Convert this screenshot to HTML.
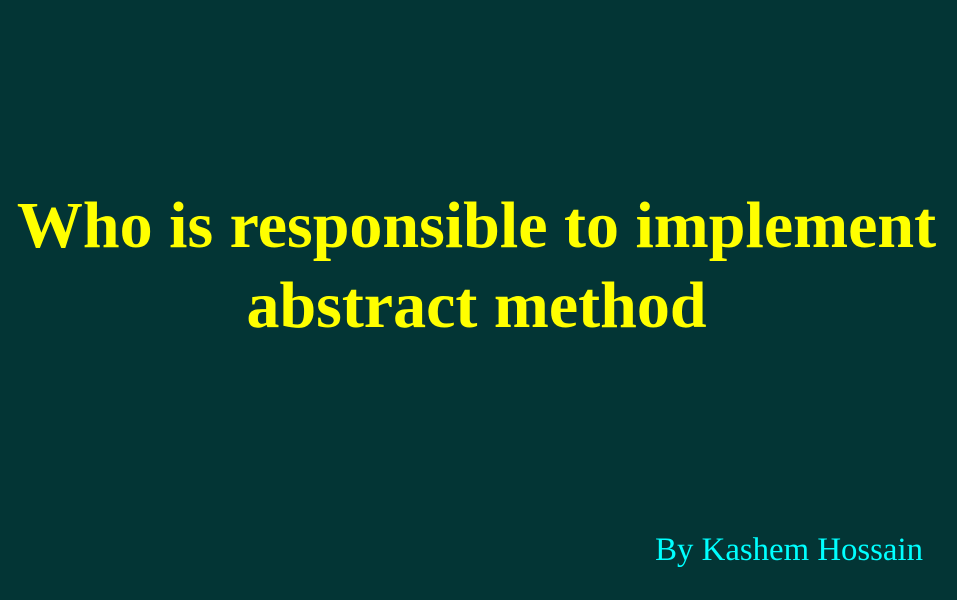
<!DOCTYPE html>
<html><head><meta charset="utf-8"><style>
html,body{margin:0;padding:0;width:957px;height:600px;background:#033535;overflow:hidden}
.t{position:absolute;left:-2px;width:957px;text-align:center;color:#ffff00;font-family:"Liberation Serif",serif;font-weight:bold;font-size:66px;line-height:80px;top:186px}
.b{position:absolute;right:34px;top:531px;color:#00ffff;font-family:"Liberation Serif",serif;font-size:32.8px;line-height:38px}
</style></head><body>
<div class="t">Who is responsible to implement<br>abstract method</div>
<div class="b">By Kashem Hossain</div>
</body></html>
